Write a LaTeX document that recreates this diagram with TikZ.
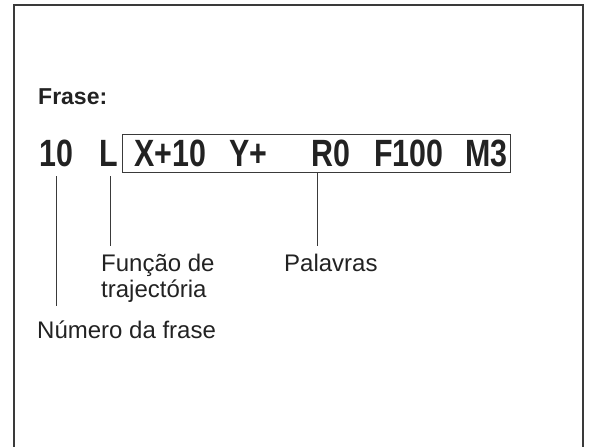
\documentclass[tikz,border=0pt]{standalone}
\usepackage{fontspec}
\setmainfont{Liberation Sans}
\newfontfamily\condbold[FakeStretch=0.8]{Liberation Sans Bold}
\definecolor{ink}{HTML}{222222}
\definecolor{linegray}{HTML}{3A3A3A}
\begin{document}
\begin{tikzpicture}[x=1pt,y=-1pt,
  frame/.style={draw=linegray,line width=1.6pt},
  big/.style={anchor=base west,inner sep=0pt,text=ink,font=\condbold\fontsize{38}{40}\selectfont},
  wordbox/.style={draw=linegray,line width=1.4pt,anchor=north west,inner sep=0pt,minimum width=388pt,minimum height=38pt},
  conn/.style={draw=linegray,line width=1pt},
  lbl/.style={anchor=base west,inner sep=0pt,text=ink,align=left,font=\fontsize{24}{26}\selectfont},
  head/.style={anchor=base west,inner sep=0pt,text=ink,font=\bfseries\fontsize{23}{26}\selectfont}]
\useasboundingbox (0,0) rectangle (590,447);
\draw[frame] (14,447) -- (14,5) -- (583,5) -- (583,447);
\node[head] (frase) at (38,104) {Frase:};
\node[wordbox] (words) at (122,134) {};
\node[big] (n10) at (39,166) {10};
\node[big] (nL) at (99,166) {L};
\node[big] (wX) at (134,166) {X+10};
\node[big] (wY) at (229,166) {Y+};
\node[big] (wR) at (311,166) {R0};
\node[big] (wF) at (374,166) {F100};
\node[big] (wM) at (465,166) {M3};
\coordinate (a10) at (56,306);
\coordinate (aL) at (110,246);
\coordinate (aW) at (317,246);
\draw[conn] ([yshift=-3pt]words.south -| a10) -- (a10);
\draw[conn] ([yshift=-3pt]words.south -| aL) -- (aL);
\draw[conn] (words.south -| aW) -- (aW);
\node[lbl] (funcao) at (101,297) {Função de\\trajectória};
\node[lbl] (palavras) at (284,271) {Palavras};
\node[lbl] (numero) at (37,338) {Número da frase};
\end{tikzpicture}
\end{document}
